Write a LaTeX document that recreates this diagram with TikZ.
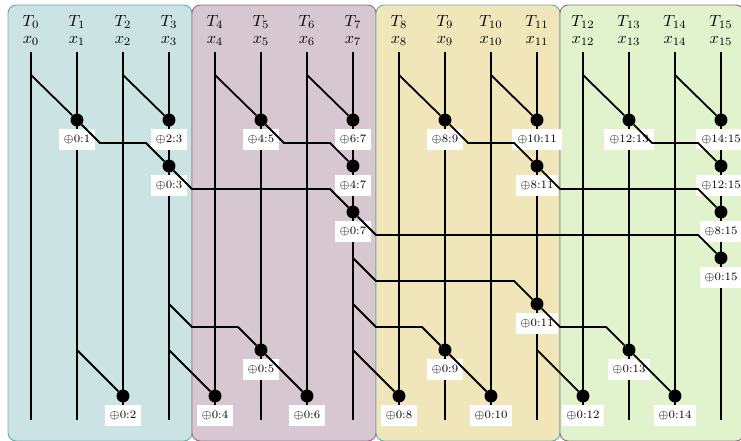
\documentclass[tikz,border=0pt]{standalone}
\usetikzlibrary{calc}
\definecolor{pA}{RGB}{204,227,227}
\definecolor{pB}{RGB}{215,199,208}
\definecolor{pC}{RGB}{240,230,185}
\definecolor{pD}{RGB}{224,243,205}
\definecolor{bA}{RGB}{105,175,175}
\definecolor{bB}{RGB}{150,115,135}
\newcommand\sumdot[4]{\node[dot,label={[lab,name=l#1,label distance=0.9pt]below:{$\oplus$#4}}] (#1) at (#2,#3) {};}
\begin{document}
\begin{tikzpicture}[x=0.0217391cm,y=-0.0217391cm,
  panel/.style={rounded corners=5pt,line width=0.6pt},
  wire/.style={line width=1.1pt},
  dot/.style={circle,fill=black,inner sep=0pt,minimum size=8pt},
  lab/.style={fill=white,font=\scriptsize,inner xsep=3pt,inner ysep=3.9pt,text height=4.6pt,text depth=0.6pt},
  head/.style={anchor=base,inner sep=0pt}]
\useasboundingbox (0,0) rectangle (741,441);
% panels
\path[panel,fill=pA,draw=bA] (8,5) rectangle (192,441);
\path[panel,fill=pB,draw=bB] (192,5) rectangle (376,441);
\path[panel,fill=pC,draw=bA] (376,5) rectangle (560,441);
\path[panel,fill=pD,draw=bB] (560,5) rectangle (744,441);
% columns
\foreach \i in {0,...,15} {
  \coordinate (top\i) at ({31+46*\i},52);
  \coordinate (bot\i) at ({31+46*\i},420);
  \node[head] (T\i) at ({31+46*\i},26.5) {$T_{\i}$};
  \node[head] (X\i) at ({31+46*\i},43.3) {$x_{\i}$};
  \draw[wire] (top\i) -- (bot\i);
}
% sum dots
\sumdot{s0x1}{77}{120}{0:1}
\sumdot{s2x3}{169}{120}{2:3}
\sumdot{s4x5}{261}{120}{4:5}
\sumdot{s6x7}{353}{120}{6:7}
\sumdot{s8x9}{445}{120}{8:9}
\sumdot{s10x11}{537}{120}{10:11}
\sumdot{s12x13}{629}{120}{12:13}
\sumdot{s14x15}{721}{120}{14:15}
\sumdot{s0x3}{169}{166}{0:3}
\sumdot{s4x7}{353}{166}{4:7}
\sumdot{s8x11}{537}{166}{8:11}
\sumdot{s12x15}{721}{166}{12:15}
\sumdot{s0x7}{353}{212}{0:7}
\sumdot{s8x15}{721}{212}{8:15}
\sumdot{s0x15}{721}{258}{0:15}
\sumdot{s0x11}{537}{304}{0:11}
\sumdot{s0x5}{261}{350}{0:5}
\sumdot{s0x9}{445}{350}{0:9}
\sumdot{s0x13}{629}{350}{0:13}
\sumdot{s0x2}{123}{396}{0:2}
\sumdot{s0x4}{215}{396}{0:4}
\sumdot{s0x6}{307}{396}{0:6}
\sumdot{s0x8}{399}{396}{0:8}
\sumdot{s0x10}{491}{396}{0:10}
\sumdot{s0x12}{583}{396}{0:12}
\sumdot{s0x14}{675}{396}{0:14}
% branch points
\coordinate (a0) at (31,75);
\coordinate (a2) at (123,75);
\coordinate (a4) at (215,75);
\coordinate (a6) at (307,75);
\coordinate (a8) at (399,75);
\coordinate (a10) at (491,75);
\coordinate (a12) at (583,75);
\coordinate (a14) at (675,75);
\coordinate (d7a) at (353,258);
\coordinate (d3) at (169,304);
\coordinate (d7b) at (353,304);
\coordinate (e1) at (77,350);
\coordinate (e3) at (169,350);
\coordinate (e7) at (353,350);
\coordinate (e11) at (537,350);
% up-sweep
\draw[wire] (a0) -- (s0x1);
\draw[wire] (a2) -- (s2x3);
\draw[wire] (a4) -- (s4x5);
\draw[wire] (a6) -- (s6x7);
\draw[wire] (a8) -- (s8x9);
\draw[wire] (a10) -- (s10x11);
\draw[wire] (a12) -- (s12x13);
\draw[wire] (a14) -- (s14x15);
\draw[wire] (s0x1) -- ++(23,23) -- ++(46,0) -- (s0x3);
\draw[wire] (s4x5) -- ++(23,23) -- ++(46,0) -- (s4x7);
\draw[wire] (s8x9) -- ++(23,23) -- ++(46,0) -- (s8x11);
\draw[wire] (s12x13) -- ++(23,23) -- ++(46,0) -- (s12x15);
\draw[wire] (s0x3) -- ++(23,23) -- ++(138,0) -- (s0x7);
\draw[wire] (s8x11) -- ++(23,23) -- ++(138,0) -- (s8x15);
\draw[wire] (s0x7) -- ++(23,23) -- ++(322,0) -- (s0x15);
% down-sweep
\draw[wire] (d7a) -- ++(23,23) -- ++(138,0) -- (s0x11);
\draw[wire] (d3) -- ++(23,23) -- ++(46,0) -- (s0x5);
\draw[wire] (d7b) -- ++(23,23) -- ++(46,0) -- (s0x9);
\draw[wire] (s0x11) -- ++(23,23) -- ++(46,0) -- (s0x13);
\draw[wire] (e1) -- (s0x2);
\draw[wire] (e3) -- (s0x4);
\draw[wire] (s0x5) -- (s0x6);
\draw[wire] (e7) -- (s0x8);
\draw[wire] (s0x9) -- (s0x10);
\draw[wire] (e11) -- (s0x12);
\draw[wire] (s0x13) -- (s0x14);
\end{tikzpicture}
\end{document}
